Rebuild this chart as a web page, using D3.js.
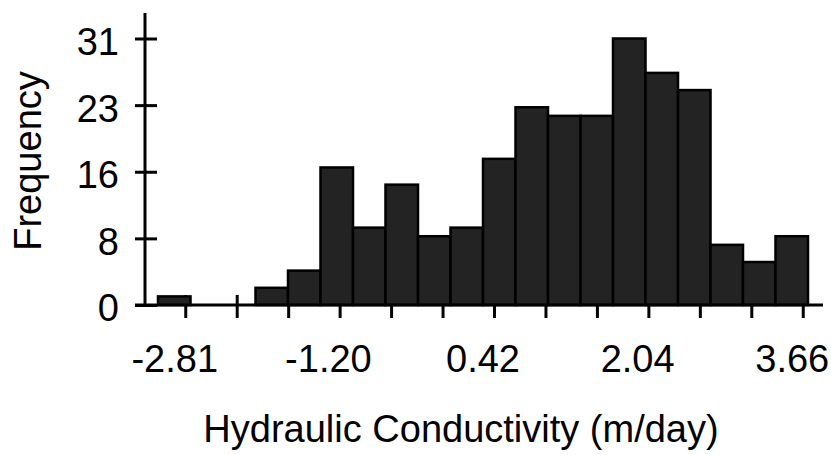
<!DOCTYPE html>
<html>
<head>
<meta charset="utf-8">
<script src="https://cdn.jsdelivr.net/npm/d3@7"></script>
<style>
  body { margin: 0; background: #fff; }
  svg { display: block; }
  text { font-family: "Liberation Sans", Arial, sans-serif; fill: #000; }
</style>
</head>
<body>
<svg id="chart" width="831" height="455"></svg>
<script>
// histogram data (20 bins, first centre -2.81, last centre 3.66)
const binMin = -2.81;
const binMax = 3.66;
const counts = [1, 0, 0, 2, 4, 16, 9, 14, 8, 9, 17, 23, 22, 22, 31, 27, 25, 7, 5, 8];
const xLabels = [-2.81, -1.20, 0.42, 2.04, 3.66];
const yTicks = [0, 7.75, 15.5, 23.25, 31];
const xTickCount = 13;

const svg = d3.select("#chart");
const width = 831, height = 455;

const binW = (binMax - binMin) / (counts.length - 1);
const bins = counts.map((c, i) => ({
  x0: binMin + (i - 0.5) * binW,
  x1: binMin + (i + 0.5) * binW,
  count: c
}));

const x = d3.scaleLinear()
    .domain([binMin - binW / 2, binMax + binW / 2])
    .range([158, 808]);

const y = d3.scaleLinear()
    .domain([0, 31])
    .range([305, 38.5]);

const axisX = 145;   // y axis position
const baseY = y(0);

// x tick marks (drawn first so bars cover their upper halves)
const tickStep = (binMax - binMin) / (xTickCount - 1);
const xTickVals = d3.range(xTickCount).map(k => binMin + k * tickStep);

svg.append("g")
    .attr("class", "x-ticks")
    .attr("transform", `translate(11.5,${baseY})`)
    .selectAll("line")
    .data(xTickVals)
    .enter().append("line")
      .attr("x1", d => x(d))
      .attr("x2", d => x(d))
      .attr("y1", -10)
      .attr("y2", 13)
      .attr("stroke", "#000")
      .attr("stroke-width", 3);

// bars
svg.append("g")
    .attr("class", "bars")
  .selectAll("rect")
  .data(bins.filter(d => d.count > 0))
  .enter().append("rect")
    .attr("x", d => x(d.x0))
    .attr("width", d => x(d.x1) - x(d.x0))
    .attr("y", d => y(d.count))
    .attr("height", d => baseY - y(d.count))
    .attr("fill", "#232323")
    .attr("stroke", "#000")
    .attr("stroke-width", 2.5);

// x axis line
svg.append("line")
    .attr("x1", axisX - 10)
    .attr("x2", 823)
    .attr("y1", baseY)
    .attr("y2", baseY)
    .attr("stroke", "#000")
    .attr("stroke-width", 3);

// x labels
svg.append("g")
    .attr("transform", `translate(0,${baseY})`)
    .call(d3.axisBottom(x).tickValues(xLabels).tickSize(0).tickFormat(d => d.toFixed(2)))
    .call(g => g.select(".domain").remove())
    .call(g => g.selectAll(".tick text")
        .attr("y", 67)
        .attr("dy", 0)
        .style("font-size", "38px")
        .style("font-family", "'Liberation Sans', Arial, sans-serif"));

// y axis
const gy = svg.append("g")
    .attr("transform", `translate(${axisX},0)`)
    .call(d3.axisLeft(y).tickValues(yTicks).tickFormat(d => Math.round(d)).tickSizeOuter(0));

gy.select(".domain").remove();
gy.selectAll(".tick line")
    .attr("x1", -10)
    .attr("x2", 12)
    .attr("stroke", "#000")
    .attr("stroke-width", 3);
gy.selectAll(".tick text")
    .attr("x", -26)
    .attr("dy", "0.42em")
    .style("font-size", "38px")
    .style("font-family", "'Liberation Sans', Arial, sans-serif");

gy.append("line")
    .attr("x1", 0).attr("x2", 0)
    .attr("y1", 13).attr("y2", baseY)
    .attr("stroke", "#000")
    .attr("stroke-width", 3);

// axis titles
svg.append("text")
    .attr("x", 461)
    .attr("y", 442)
    .attr("text-anchor", "middle")
    .style("font-size", "38px")
    .text("Hydraulic Conductivity (m/day)");

svg.append("text")
    .attr("transform", "translate(41,161) rotate(-90)")
    .attr("text-anchor", "middle")
    .style("font-size", "38px")
    .text("Frequency");
</script>
</body>
</html>
